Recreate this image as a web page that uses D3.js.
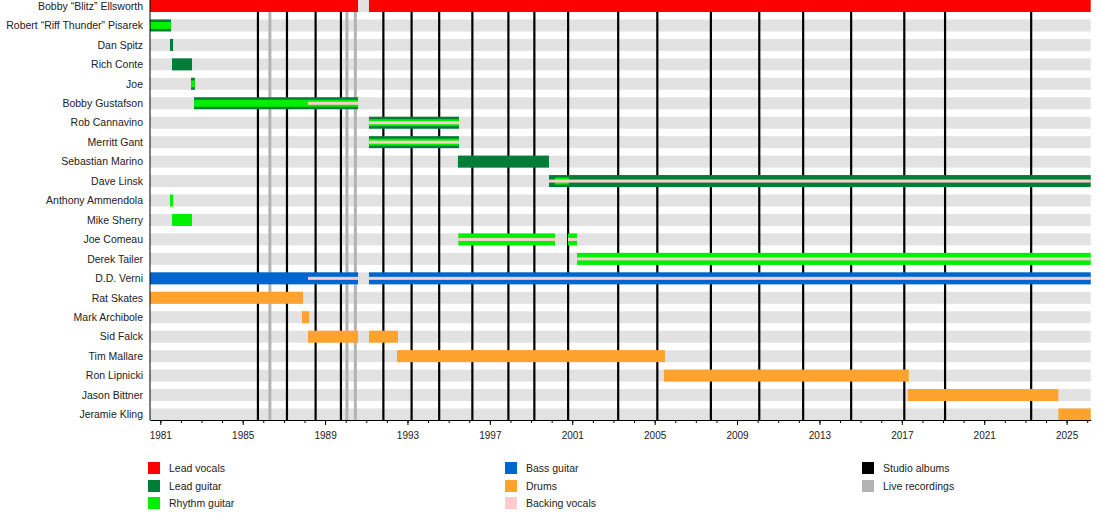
<!DOCTYPE html>
<html lang="en">
    <head>
        <meta charset="utf-8">
        <title>Overkill timeline</title>
        <script src="https://cdn.jsdelivr.net/npm/d3@7"></script>
        <style>
            body {
                margin: 0;
                background-color: white;
                font-family: 'Liberation Sans', Arial, sans-serif;
            }
            text {
                fill: #222;
            }
        </style>
    </head>
    <body>
        <div class="chart"></div>

        <script>
            // band members, top to bottom
            const members = [
                "Bobby “Blitz” Ellsworth",
                "Robert “Riff Thunder” Pisarek",
                "Dan Spitz",
                "Rich Conte",
                "Joe",
                "Bobby Gustafson",
                "Rob Cannavino",
                "Merritt Gant",
                "Sebastian Marino",
                "Dave Linsk",
                "Anthony Ammendola",
                "Mike Sherry",
                "Joe Comeau",
                "Derek Tailer",
                "D.D. Verni",
                "Rat Skates",
                "Mark Archibole",
                "Sid Falck",
                "Tim Mallare",
                "Ron Lipnicki",
                "Jason Bittner",
                "Jeramie Kling"
            ];

            const startYear = 1980.5;
            const endYear = 2026.17;

            // spans per role: [member, from, to] in decimal years
            const leadVocals = [
                ["Bobby “Blitz” Ellsworth", 1980.5, 1990.6],
                ["Bobby “Blitz” Ellsworth", 1991.13, 2026.17]
            ];
            const leadGuitar = [
                ["Robert “Riff Thunder” Pisarek", 1980.5, 1981.52],
                ["Dan Spitz", 1981.47, 1981.62],
                ["Rich Conte", 1981.57, 1982.54],
                ["Joe", 1982.49, 1982.68],
                ["Bobby Gustafson", 1982.64, 1990.6],
                ["Rob Cannavino", 1991.13, 1995.5],
                ["Merritt Gant", 1991.13, 1995.5],
                ["Sebastian Marino", 1995.45, 1999.87],
                ["Dave Linsk", 1999.87, 2026.17]
            ];
            const rhythmGuitar = [
                ["Robert “Riff Thunder” Pisarek", 1980.5, 1981.52],
                ["Joe", 1982.49, 1982.68],
                ["Bobby Gustafson", 1982.64, 1990.6],
                ["Rob Cannavino", 1991.13, 1995.5],
                ["Merritt Gant", 1991.13, 1995.5],
                ["Dave Linsk", 2000.16, 2000.84],
                ["Anthony Ammendola", 1981.47, 1981.62],
                ["Mike Sherry", 1981.57, 1982.54],
                ["Joe Comeau", 1995.47, 2000.16],
                ["Joe Comeau", 2000.79, 2001.23],
                ["Derek Tailer", 2001.23, 2026.17]
            ];
            const bassGuitar = [
                ["D.D. Verni", 1980.5, 1990.6],
                ["D.D. Verni", 1991.13, 2026.17]
            ];
            const drums = [
                ["Rat Skates", 1980.5, 1987.93],
                ["Mark Archibole", 1987.88, 1988.22],
                ["Sid Falck", 1988.17, 1990.6],
                ["Sid Falck", 1991.13, 1992.54],
                ["Tim Mallare", 1992.49, 2005.5],
                ["Ron Lipnicki", 2005.45, 2017.34],
                ["Jason Bittner", 2017.29, 2024.6],
                ["Jeramie Kling", 2024.6, 2026.17]
            ];
            const backingVocals = [
                ["Bobby Gustafson", 1988.17, 1990.6],
                ["Rob Cannavino", 1991.13, 1995.5],
                ["Merritt Gant", 1991.13, 1995.5],
                ["Dave Linsk", 1999.87, 2026.17],
                ["Joe Comeau", 1995.47, 2000.16],
                ["Joe Comeau", 2000.79, 2001.23],
                ["Derek Tailer", 2001.23, 2026.17],
                ["D.D. Verni", 1988.17, 1990.6],
                ["D.D. Verni", 1991.13, 2026.17]
            ];

            // release dates
            const studioAlbums = [1985.74, 1987.15, 1988.54, 1989.77, 1991.83, 1993.2, 1994.54,
                1996.15, 1997.9, 1999.16, 2000.8, 2003.23, 2005.13, 2007.73, 2010.08,
                2012.21, 2014.54, 2017.12, 2019.1, 2023.28];
            const liveRecordings = [1986.32, 1990.06, 1990.47];

            const tickYears = d3.range(1981, 2027);
            const labelYears = d3.range(1981, 2026, 4);

            const colors = {
                "Lead vocals": "#ff0000",
                "Lead guitar": "#007d37",
                "Rhythm guitar": "#00f000",
                "Bass guitar": "#0066cc",
                "Drums": "#ffa22e",
                "Backing vocals": "#ffcccc",
                "Studio albums": "#000000",
                "Live recordings": "#b3b3b3"
            };

            const width = 1100;
            const height = 520;
            const barH = 12;
            const axisY = 420;

            const x = d3.scaleLinear()
                .domain([startYear, endYear])
                .range([150, 1090.7]);
            const y = d3.scalePoint()
                .domain(members)
                .range([6, 414.5]);

            const svg = d3.select(".chart")
                .append("svg")
                .attr("width", width)
                .attr("height", height)
                .style("display", "block");

            // grey background bands
            svg.append("g")
                .selectAll("rect")
                .data(members)
                .enter()
                .append("rect")
                .attr("x", x(startYear))
                .attr("width", x(endYear) - x(startYear))
                .attr("y", d => y(d) - barH / 2)
                .attr("height", barH)
                .attr("fill", "#e2e2e2");

            // release lines
            svg.append("g")
                .selectAll("line")
                .data(liveRecordings)
                .enter()
                .append("line")
                .attr("x1", d => x(d))
                .attr("x2", d => x(d))
                .attr("y1", 0)
                .attr("y2", axisY)
                .attr("stroke", colors["Live recordings"])
                .attr("stroke-width", 3);
            svg.append("g")
                .selectAll("line")
                .data(studioAlbums)
                .enter()
                .append("line")
                .attr("x1", d => x(d))
                .attr("x2", d => x(d))
                .attr("y1", 0)
                .attr("y2", axisY)
                .attr("stroke", colors["Studio albums"])
                .attr("stroke-width", 2.2);

            // rhythm guitar goes thinner where the member also plays lead
            const playsLead = (s) => leadGuitar.some(l => l[0] === s[0] && l[1] < s[2] && l[2] > s[1]);

            const layers = [
                { spans: leadVocals, color: colors["Lead vocals"], h: () => barH },
                { spans: leadGuitar, color: colors["Lead guitar"], h: () => barH },
                { spans: bassGuitar, color: colors["Bass guitar"], h: () => barH },
                { spans: drums, color: colors["Drums"], h: () => barH },
                { spans: rhythmGuitar, color: colors["Rhythm guitar"], h: (s) => playsLead(s) ? 7 : barH },
                { spans: backingVocals, color: colors["Backing vocals"], h: () => 3 }
            ];

            layers.forEach(layer => {
                svg.append("g")
                    .selectAll("rect")
                    .data(layer.spans)
                    .enter()
                    .append("rect")
                    .attr("x", d => x(d[1]))
                    .attr("width", d => x(d[2]) - x(d[1]))
                    .attr("y", d => y(d[0]) - layer.h(d) / 2)
                    .attr("height", d => layer.h(d))
                    .attr("fill", layer.color);
            });

            // member names
            svg.append("g")
                .selectAll("text")
                .data(members)
                .enter()
                .append("text")
                .attr("x", 143)
                .attr("y", d => y(d))
                .attr("dy", "0.36em")
                .attr("text-anchor", "end")
                .style("font-size", "10.5px")
                .text(d => d);

            // axes
            const minorAxis = d3.axisBottom(x)
                .tickValues(tickYears)
                .tickSize(3)
                .tickSizeOuter(0)
                .tickFormat("");
            svg.append("g")
                .attr("transform", "translate(0," + axisY + ")")
                .call(minorAxis);

            const majorAxis = d3.axisBottom(x)
                .tickValues(labelYears)
                .tickSize(5)
                .tickSizeOuter(0)
                .tickPadding(7)
                .tickFormat(d3.format("d"));
            const gx = svg.append("g")
                .attr("transform", "translate(0," + axisY + ")")
                .call(majorAxis);
            gx.selectAll("text")
                .style("font-family", "'Liberation Sans', Arial, sans-serif")
                .style("font-size", "10px")
                .attr("fill", "#222");
            gx.select(".domain").attr("stroke", "#000");

            svg.append("line")
                .attr("x1", x(startYear))
                .attr("x2", x(startYear))
                .attr("y1", 0)
                .attr("y2", axisY)
                .attr("stroke", "#000");

            // legend
            const legendCols = [
                { x: 148, items: ["Lead vocals", "Lead guitar", "Rhythm guitar"] },
                { x: 505, items: ["Bass guitar", "Drums", "Backing vocals"] },
                { x: 862, items: ["Studio albums", "Live recordings"] }
            ];
            const legendRows = [462, 480, 497];

            legendCols.forEach(col => {
                const g = svg.append("g");
                g.selectAll("rect")
                    .data(col.items)
                    .enter()
                    .append("rect")
                    .attr("x", col.x)
                    .attr("y", (d, i) => legendRows[i])
                    .attr("width", 12)
                    .attr("height", 12)
                    .attr("fill", d => colors[d]);
                g.selectAll("text")
                    .data(col.items)
                    .enter()
                    .append("text")
                    .attr("x", col.x + 21)
                    .attr("y", (d, i) => legendRows[i] + 6)
                    .attr("dy", "0.36em")
                    .style("font-size", "10.5px")
                    .text(d => d);
            });
        </script>
    </body>
</html>
